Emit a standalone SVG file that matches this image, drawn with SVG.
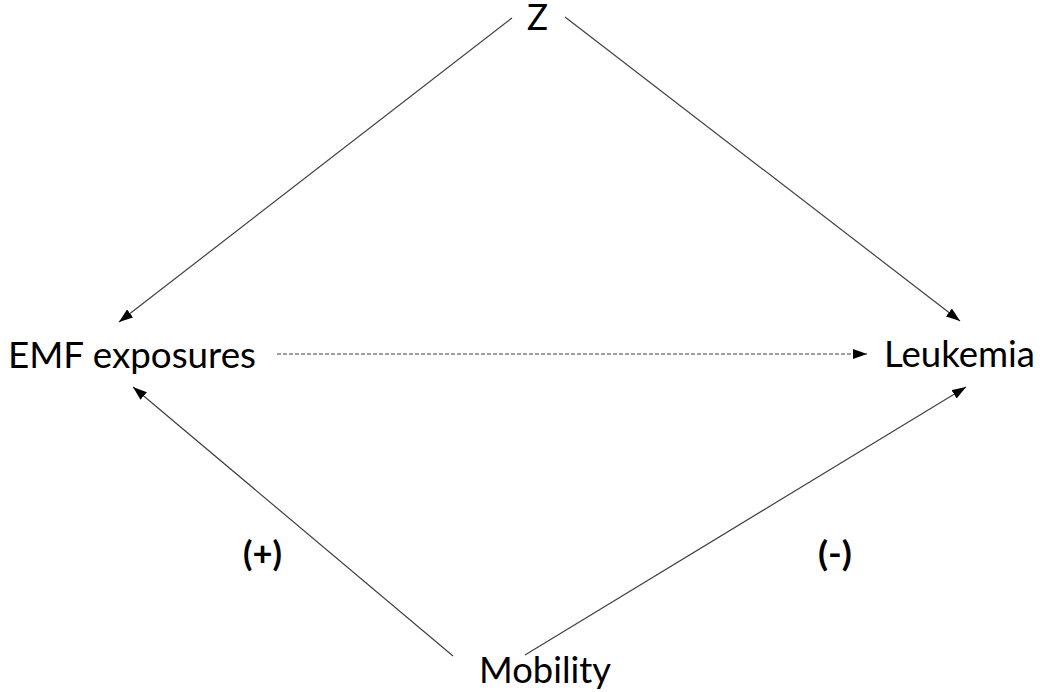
<svg xmlns="http://www.w3.org/2000/svg" width="1044" height="692" viewBox="0 0 1044 692">
<style>
.lbl{font-family:Lato,"Open Sans","Liberation Sans",sans-serif;font-size:37px;fill:#000}
.sgn{font-family:Lato,"Open Sans","Liberation Sans",sans-serif;font-size:34px;font-weight:bold;fill:#000}
.edge{stroke:#404040;stroke-width:1.2;fill:none}
.dash{stroke:#404040;stroke-width:1.2;fill:none;stroke-dasharray:4 2}
</style>
<defs>
<marker id="ah" viewBox="0 0 14 10" refX="14" refY="5" markerWidth="14" markerHeight="10" markerUnits="userSpaceOnUse" orient="auto">
<path d="M0,0 L14,5 L0,10 Z" fill="#000"/>
</marker>
</defs>
<rect width="1044" height="692" fill="#fff"/>
<g id="connectors">
<line class="edge" x1="512" y1="18" x2="119" y2="322" marker-end="url(#ah)"/>
<line class="edge" x1="565" y1="17" x2="960" y2="321" marker-end="url(#ah)"/>
<line class="edge" x1="453" y1="656" x2="133" y2="387" marker-end="url(#ah)"/>
<line class="edge" x1="525" y1="655" x2="966" y2="387" marker-end="url(#ah)"/>
<line class="dash" x1="277" y1="354" x2="867" y2="354" marker-end="url(#ah)"/>
</g>
<g id="node-z"><text class="lbl" x="527" y="30" textLength="21" lengthAdjust="spacingAndGlyphs">Z</text></g>
<g id="node-emf"><text class="lbl" x="8" y="368" textLength="248" lengthAdjust="spacingAndGlyphs">EMF exposures</text></g>
<g id="node-leukemia"><text class="lbl" x="884" y="367" textLength="151" lengthAdjust="spacingAndGlyphs">Leukemia</text></g>
<g id="node-mobility"><text class="lbl" x="479" y="683" textLength="132" lengthAdjust="spacingAndGlyphs">Mobility</text></g>
<g id="label-plus"><text class="sgn" x="243" y="566" textLength="39" lengthAdjust="spacingAndGlyphs">(+)</text></g>
<g id="label-minus"><text class="sgn" x="818" y="566" textLength="34" lengthAdjust="spacingAndGlyphs">(-)</text></g>
</svg>
